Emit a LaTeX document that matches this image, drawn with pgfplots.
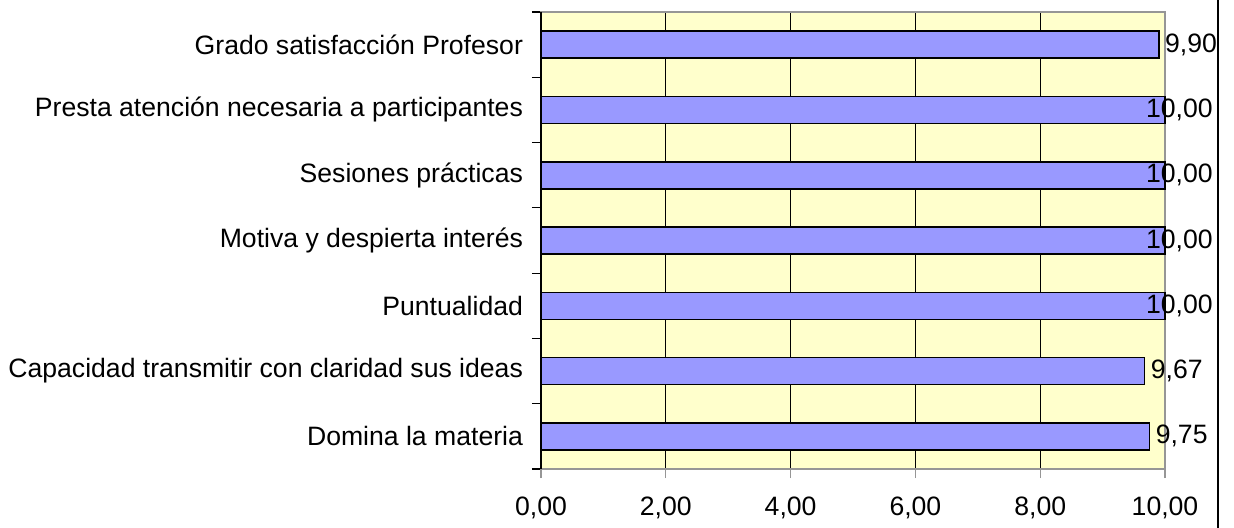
\documentclass[border=0pt]{standalone}
\usepackage{fontspec}
\setmainfont{Liberation Sans}
\usepackage{pgfplots}
\pgfplotsset{compat=1.18}
\definecolor{barfill}{RGB}{153,153,255}
\definecolor{plotbg}{RGB}{255,255,204}
\definecolor{frame}{RGB}{150,150,150}

\begin{document}
\begin{tikzpicture}
\path[use as bounding box] (-270.5pt,-29pt) rectangle (346.5pt,234.5pt);
\begin{axis}[
    at={(0,0)}, anchor=south west,
    scale only axis,
    width=312pt, height=228.5pt,
    xmin=0, xmax=10,
    ymin=-0.5, ymax=6.5,
    xtick={0,2,...,10},
    ytick={0,...,6},
    minor ytick={-0.5,0.5,...,6.5},
    yticklabels={Domina la materia,
                 Capacidad transmitir con claridad sus ideas,
                 Puntualidad,
                 Motiva y despierta interés,
                 Sesiones prácticas,
                 Presta atención necesaria a participantes,
                 Grado satisfacción Profesor},
    tick align=outside,
    major tick length=4.5pt,
    minor tick length=4.5pt,
    major y tick style={draw=none},
    minor y tick style={black, line width=0.6pt},
    xtick style={frame, line width=0.6pt},
    xtick pos=bottom, ytick pos=left,
    xmajorgrids,
    grid style={black, line width=0.6pt},
    axis line style={frame, line width=0.8pt},
    axis background/.style={fill=plotbg},
    /pgf/number format/assume math mode=true,
    xticklabel={\pgfmathprintnumber[fixed,fixed zerofill,precision=2,use comma]{\tick}},
    ticklabel style={font=\fontsize{13.3}{15.5}\selectfont},
    xticklabel style={yshift=-6pt},
    yticklabel style={xshift=-1pt},
    clip=false,
]
\addplot[xbar, bar width=13.5pt, bar shift=0pt, fill=barfill, draw=black, line width=0.8pt]
    coordinates {(9.75,0) (9.67,1) (10,2) (10,3) (10,4) (10,5) (9.90,6)};
% value labels
\addplot[draw=none, mark=none, point meta=x,
    nodes near coords={\pgfmathprintnumber[fixed,fixed zerofill,precision=2,use comma]{\pgfplotspointmeta}},
    every node near coord/.style={anchor=west, xshift=3pt, font=\fontsize{13.3}{15.5}\selectfont, inner sep=0pt}]
    coordinates {(9.75,0) (9.67,1) (9.90,6)};
\addplot[draw=none, mark=none, point meta=x,
    nodes near coords={\pgfmathprintnumber[fixed,fixed zerofill,precision=2,use comma]{\pgfplotspointmeta}},
    every node near coord/.style={anchor=east, xshift=24pt, font=\fontsize{13.3}{15.5}\selectfont, inner sep=0pt}]
    coordinates {(10,2) (10,3) (10,4) (10,5)};
\draw[black, line width=0.8pt] (rel axis cs:0,0) -- (rel axis cs:0,1);
\end{axis}
\draw[black, line width=0.8pt] (338.5pt,-40pt) -- (338.5pt,250pt);
\end{tikzpicture}
\end{document}
